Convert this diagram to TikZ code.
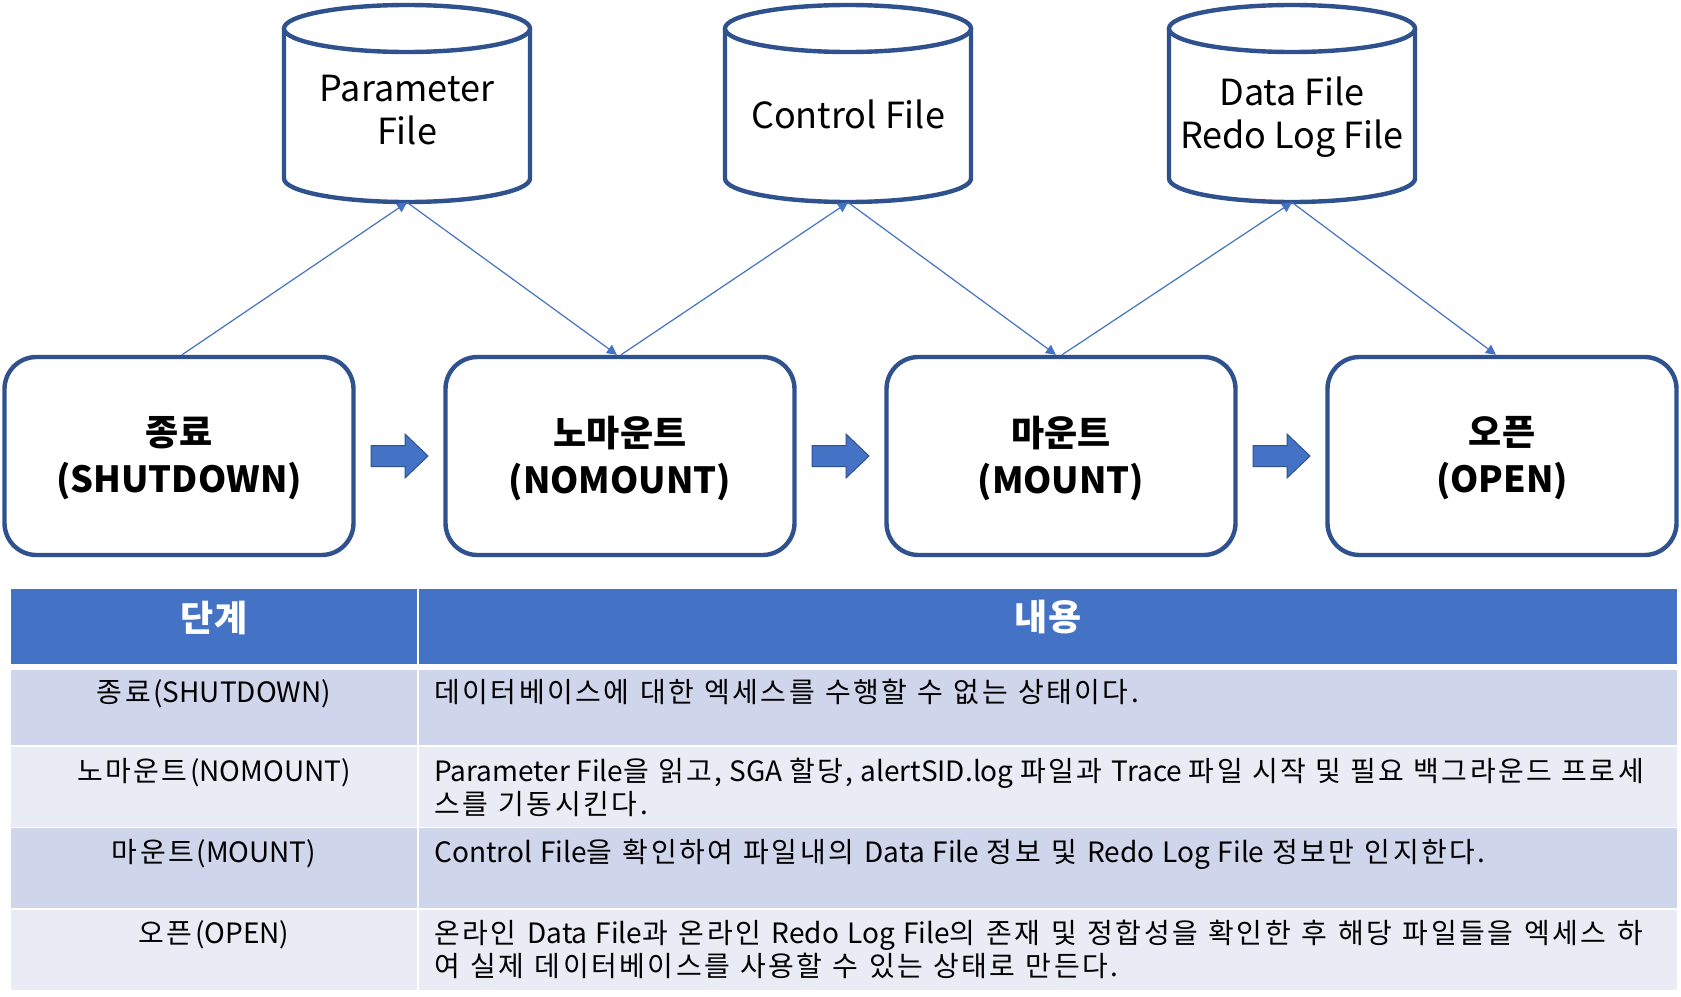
\documentclass[tikz,border=0pt]{standalone}
\usepackage{fontspec}
\setmainfont{Noto Sans CJK KR}
\usetikzlibrary{arrows.meta,calc}
\definecolor{boxline}{HTML}{2F528F}
\definecolor{accent}{HTML}{4472C4}
\definecolor{rowA}{HTML}{CFD5EA}
\definecolor{rowB}{HTML}{E9EBF5}
% extra tracking after Hangul syllables (used in table cells only)
\newXeTeXintercharclass\HangulClass
\newcount\hgc
\hgc="AC00
\loop
  \XeTeXcharclass\hgc=\HangulClass
  \ifnum\hgc<"D7A3 \advance\hgc by 1
\repeat
\XeTeXinterchartoks\HangulClass\HangulClass={\kern1.25pt\relax}
\XeTeXinterchartoks\HangulClass 0 ={\kern1.25pt\relax}
\XeTeXinterchartoks\HangulClass 4095 ={\kern1.25pt\relax}
\newcommand\cellfont{\fontsize{14}{16}\selectfont
  \spaceskip=3.9pt plus 3pt minus 1pt\relax
  \XeTeXinterchartokenstate=1\relax}
\tikzset{
  stage/.style={draw=boxline, line width=2.2pt, rounded corners=16pt, fill=white,
    minimum width=174.5pt, minimum height=99pt, inner sep=0pt},
  stagetext/.style={align=center, inner sep=0pt,
    font=\fontsize{18}{23.5}\selectfont\bfseries},
  cylspace/.style={minimum width=123pt, minimum height=98.5pt, inner sep=0pt},
  cyltext/.style={align=center, inner sep=0pt, font=\fontsize{18}{21.5}\selectfont},
  cylline/.style={draw=boxline, line width=2.2pt, fill=white},
  conn/.style={draw=accent, line width=0.6pt, -{Triangle[length=5pt,width=5pt]}},
  blockarrow/.style={fill=accent, draw=boxline, line width=0.5pt},
  hdrtext/.style={text=white, inner sep=0pt, font=\fontsize{18}{20}\selectfont\bfseries},
  celltext/.style={inner sep=0pt, text=black, font=\cellfont}
}
% name, x centre, text y, text
\newcommand\dbcyl[4]{%
  \path[cylline] ({#2-123},28.5) -- ({#2-123},178.5)
     arc[start angle=180, end angle=360, x radius=61.5pt, y radius=11.75pt]
     -- ({#2+123},28.5);
  \path[cylline] (#2,28.5) ellipse[x radius=61.5pt, y radius=11.75pt];
  \node[cylspace] (#1) at (#2,103.5) {};
  \node[cyltext] (#1t) at (#2,#3) {#4};
}
% name, x centre, text
\newcommand\stagebox[3]{%
  \node[stage] (#1) at (#2,456) {};
  \node[stagetext] (#1t) at (#2,458.5) {#3};
}
\newcommand\blockarr[2]{%
  \path[blockarrow] ($(#1.east)!0.5!(#2.west)$) ++(-28.5,-10.5) -- ++(34,0) -- ++(0,-11.5)
     -- ++(23,22) -- ++(-23,22) -- ++(0,-11.5) -- ++(-34,0) -- cycle;
}
\begin{document}
\begin{tikzpicture}[x=0.5pt, y=-0.5pt]
\fill[white] (0,0) rectangle (1681,996);
\useasboundingbox (0,0) rectangle (1681,996);

% databases
\dbcyl{pf}{407}{110.5}{Parameter\\File}
\dbcyl{cf}{848}{114}{Control File}
\dbcyl{df}{1292}{117}{Data File\\Redo Log File}

% stages
\stagebox{b1}{179}{종료\\(SHUTDOWN)}
\stagebox{b2}{620}{노마운트\\(NOMOUNT)}
\stagebox{b3}{1061}{마운트\\(MOUNT)}
\stagebox{b4}{1502}{오픈\\(OPEN)}

% block arrows
\blockarr{b1}{b2}
\blockarr{b2}{b3}
\blockarr{b3}{b4}

% connectors
\draw[conn] ([xshift=1.5pt]b1.north) -- (pf.south);
\draw[conn] (pf.south) -- ([xshift=-1.5pt]b2.north);
\draw[conn] ([xshift=0.5pt]b2.north) -- (cf.south);
\draw[conn] (cf.south) -- ([xshift=-2.5pt]b3.north);
\draw[conn] ([xshift=0.5pt]b3.north) -- (df.south);
\draw[conn] (df.south) -- ([xshift=-3pt]b4.north);

% table
\fill[accent] (11,589) rectangle (1677,664);
\fill[rowA] (11,669.5) rectangle (1677,745);
\fill[rowB] (11,746.5) rectangle (1677,826.5);
\fill[rowA] (11,828) rectangle (1677,907.5);
\fill[rowB] (11,909.5) rectangle (1677,989.5);
\draw[white, line width=1pt] (418,589) -- (418,989.5);

\node[hdrtext] (h1) at (214,617.5) {단계};
\node[hdrtext] (h2) at (1048,617.5) {내용};

\node[celltext, anchor=base] (s1) at (214,702) {종료(SHUTDOWN)};
\node[celltext, anchor=base west] (d1) at (434,702) {데이터베이스에 대한 엑세스를 수행할 수 없는 상태이다.};

\node[celltext, anchor=base] (s2) at (214,781) {노마운트(NOMOUNT)};
\node[celltext, anchor=base west] (d2a) at (434,781) {\makebox[606pt][s]{Parameter File을 읽고, SGA 할당, alertSID.log 파일과 Trace 파일 시작 및 필요 백그라운드 프로세}};
\node[celltext, anchor=base west] (d2b) at (434,814) {스를 기동시킨다.};

\node[celltext, anchor=base] (s3) at (214,862.5) {마운트(MOUNT)};
\node[celltext, anchor=base west] (d3) at (434,862.5) {Control File을 확인하여 파일내의 Data File 정보 및 Redo Log File 정보만 인지한다.};

\node[celltext, anchor=base] (s4) at (214,943) {오픈(OPEN)};
\node[celltext, anchor=base west] (d4a) at (434,943) {\makebox[605.5pt][s]{온라인 Data File과 온라인 Redo Log File의 존재 및 정합성을 확인한 후 해당 파일들을 엑세스 하}};
\node[celltext, anchor=base west] (d4b) at (434,976.5) {여 실제 데이터베이스를 사용할 수 있는 상태로 만든다.};
\end{tikzpicture}
\end{document}
